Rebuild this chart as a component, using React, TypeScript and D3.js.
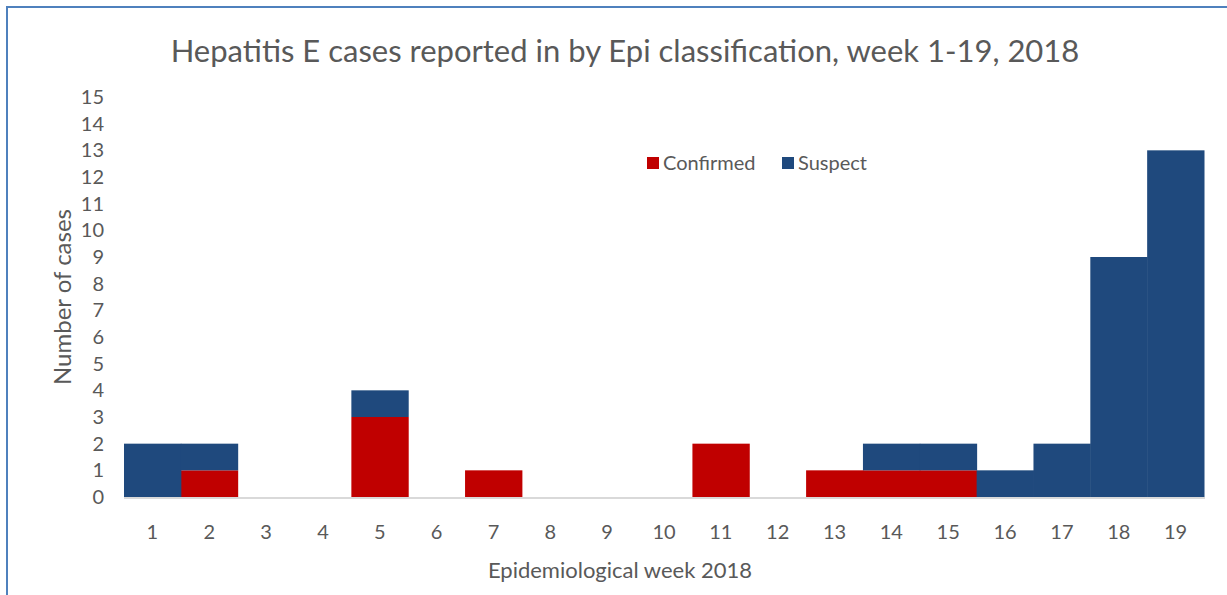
import React from "react";
import * as d3 from "d3";

const weeks = ["1","2","3","4","5","6","7","8","9","10","11","12","13","14","15","16","17","18","19"];
const confirmed = [0,1,0,0,3,0,1,0,0,0,2,0,1,1,1,0,0,0,0];
const suspect = [2,1,0,0,1,0,0,0,0,0,0,0,0,1,1,1,2,9,13];
const yTicks = d3.range(0, 16);
const seriesNames = ["Confirmed", "Suspect"];
const colors = ["#C00000", "#1F497D"];

const W = 1227, H = 595;
const FONT = "Lato, 'Open Sans', sans-serif";

export default function App() {
  const x = d3.scaleBand<string>().domain(weeks).range([124, 1204]).padding(0);
  const y = d3.scaleLinear().domain([0, 15]).range([497, 97]);
  const data = weeks.map((w, i) => ({ week: w, Confirmed: confirmed[i], Suspect: suspect[i] }));
  const stack = d3.stack<any>().keys(seriesNames)(data);

  return (
    <svg width={W} height={H} style={{ position: "absolute", left: 0, top: 0 }}>
      <rect x={0} y={0} width={W} height={H} fill="#fff" />
      <rect x={7} y={7} width={W + 20} height={H + 20} fill="none" stroke="#4F81BD" strokeWidth={2} />
      <text x={625} y={62} textAnchor="middle" fontFamily={FONT} fontSize={31} fill="#595959">
        Hepatitis E cases reported in by Epi classification, week 1-19, 2018
      </text>
      {stack.map((s, si) => (
        <g key={si}>
          {s.map((d, i) => (d[1] - d[0] > 0 ? (
            <rect key={i} x={x(weeks[i])!} y={y(d[1])} width={x.bandwidth() + 0.5} height={y(d[0]) - y(d[1])}
              fill={colors[si]} />
          ) : null))}
        </g>
      ))}
      <line x1={124} x2={1205} y1={498} y2={498} stroke="#D9D9D9" strokeWidth={2} />
      {yTicks.map(t => (
        <text key={t} x={104} y={y(t) + 7} textAnchor="end" fontFamily={FONT} fontSize={20} fill="#595959">{t}</text>
      ))}
      {weeks.map(w => (
        <text key={w} x={x(w)! + x.bandwidth() / 2} y={539} textAnchor="middle" fontFamily={FONT} fontSize={20} fill="#595959">{w}</text>
      ))}
      <text transform={`translate(71,297) rotate(-90)`} textAnchor="middle" fontFamily={FONT} fontSize={24} fill="#595959">Number of cases</text>
      <text x={620} y={578} textAnchor="middle" fontFamily={FONT} fontSize={22} fill="#595959">Epidemiological week 2018</text>
      {seriesNames.map((n, i) => {
        const lx = [647, 782][i];
        return (
          <g key={n}>
            <rect x={lx} y={157} width={12} height={12} fill={colors[i]} />
            <text x={lx + 16} y={170} fontFamily={FONT} fontSize={20} fill="#595959">{n}</text>
          </g>
        );
      })}
    </svg>
  );
}
